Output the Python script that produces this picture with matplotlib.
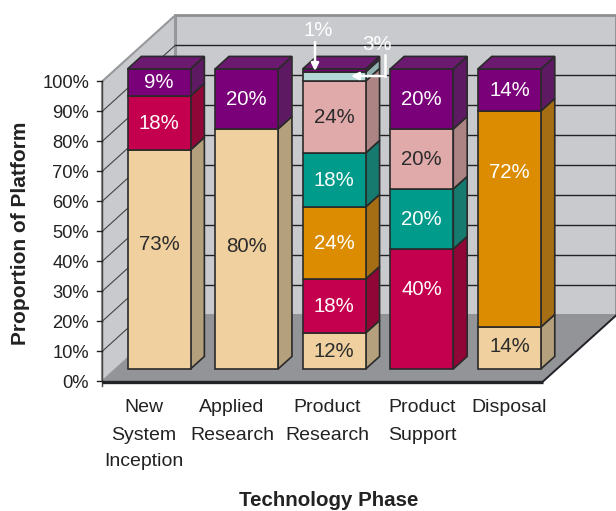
import matplotlib
matplotlib.use('Agg')
import matplotlib.pyplot as plt
from matplotlib.patches import Polygon

plt.rcParams['font.family'] = ['Liberation Sans', 'DejaVu Sans']

phases = ['New\nSystem\nInception', 'Applied\nResearch', 'Product\nResearch', 'Product\nSupport', 'Disposal']
tick_labels = ['0%', '10%', '20%', '30%', '40%', '50%', '60%', '70%', '80%', '90%', '100%']

# stacked from the floor up
beige = [73, 80, 12, 0, 14]
crimson = [18, 0, 18, 40, 0]
orange = [0, 0, 24, 0, 72]
teal = [0, 0, 18, 20, 0]
pink = [0, 0, 24, 20, 0]
pale = [0, 0, 3, 0, 0]
purple = [9, 20, 1, 20, 14]

# values, front colour, side colour, label colour
series = [
	(beige, '#EFD09E', '#B4A07C', '#2b2b2b'),
	(crimson, '#C4004E', '#8F0637', 'white'),
	(orange, '#DB8C00', '#A56D14', 'white'),
	(teal, '#009B8A', '#177A6E', 'white'),
	(pink, '#E0AAAA', '#AC8484', '#2b2b2b'),
	(pale, '#B4D8D6', '#8FB0AE', None),
	(purple, '#7A007A', '#5D1A63', 'white'),
]
TOP_COLOR = '#6B1A70'
EDGE = '#2a2a2a'

# projection of the 3d box on to the page, in pixels
X0, Y0 = 102, 381.5
PLOT_W = 441
PCT = 3.0
DEPTH_X, DEPTH_Y = 73, -66
BAR_W = 63
BAR_STEP = 87.6
BAR_X0 = 127
BAR_DEPTH = 0.19
BAR_FRONT = 0.19


def pt(x, pct, depth=0):
	return (x + DEPTH_X * depth, Y0 - pct * PCT + DEPTH_Y * depth)


def main():
	fig = plt.figure(figsize=(6.16, 5.11), dpi=100)
	ax = fig.add_axes([0, 0, 1, 1])
	ax.set_xlim(0, 616)
	ax.set_ylim(511, 0)
	ax.axis('off')

	x1 = X0 + PLOT_W
	# WALLS AND FLOOR
	ax.add_patch(Polygon([pt(X0, 0, 1), pt(x1, 0, 1), pt(x1, 100, 1), pt(X0, 100, 1)], fc='#C9CACE', ec='#8E8F92', lw=2))
	ax.add_patch(Polygon([pt(X0, 0), pt(X0, 100), pt(X0, 100, 1), pt(X0, 0, 1)], fc='#C9CACE', ec='#97989B', lw=1.5))
	ax.add_patch(Polygon([pt(X0, 0), pt(x1, 0), pt(x1, 0, 1), pt(X0, 0, 1)], fc='#939497', ec='none'))

	# GRID
	for i in range(1, 11):
		p = i * 10
		a, b, c = pt(X0, p), pt(X0, p, 1), pt(x1, p, 1)
		if p < 100:
			ax.plot([b[0], c[0]], [b[1], c[1]], color='#222222', lw=1.0)
			ax.plot([a[0], b[0]], [a[1], b[1]], color='#444444', lw=0.8)
	ax.plot([X0, X0], [pt(X0, 0)[1] + 5, pt(X0, 100)[1]], color='#444444', lw=1.0)
	for i, lab in enumerate(tick_labels):
		y = pt(X0, i * 10)[1]
		ax.plot([X0 - 5, X0], [y, y], color='#222222', lw=1.0)
		ax.text(89, y + 1.5, lab, ha='right', va='center', fontsize=13.2, color='#222222')

	# front and right edge of the floor
	ax.plot([X0, x1], [Y0 + 0.5, Y0 + 0.5], color='#222228', lw=2.4, solid_capstyle='butt')
	ax.plot([x1, x1 + DEPTH_X], [Y0, Y0 + DEPTH_Y], color='#222228', lw=1.4)

	# BARS
	label_shift = {(0, 0): 15, (1, 0): 3, (3, 1): 20, (4, 2): 47, (4, 0): 2}
	for n in range(len(phases)):
		x = BAR_X0 + n * BAR_STEP
		base = 0
		d0, d1 = BAR_FRONT, BAR_FRONT + BAR_DEPTH
		xa = x - DEPTH_X * d0 + 0.5
		xb = xa + BAR_W
		for k, (vals, front, side, txt) in enumerate(series):
			v = vals[n]
			if v == 0:
				continue
			top = base + v
			ax.add_patch(Polygon([pt(xb, base, d0), pt(xb, top, d0), pt(xb, top, d1), pt(xb, base, d1)], fc=side, ec=EDGE, lw=1.2, zorder=3))
			ax.add_patch(Polygon([pt(xa, base, d0), pt(xb, base, d0), pt(xb, top, d0), pt(xa, top, d0)], fc=front, ec=EDGE, lw=1.2, zorder=4))
			if txt is not None and v > 1:
				cx, cy = pt((xa + xb) / 2, (base + top) / 2, d0)
				cy -= label_shift.get((n, k), 0)
				ax.text(cx, cy + 0.5, '%d%%' % v, ha='center', va='center', fontsize=14.7, color=txt, zorder=6)
			base = top
		ax.add_patch(Polygon([pt(xa, 100, d0), pt(xb, 100, d0), pt(xb, 100, d1), pt(xa, 100, d1)], fc=TOP_COLOR, ec=EDGE, lw=1.2, zorder=5))

	# CALLOUTS FOR THE THIN SEGMENTS
	ax.text(318, 31, '1%', ha='center', va='center', fontsize=14.7, color='white', zorder=7)
	ax.text(377, 44, '3%', ha='center', va='center', fontsize=14.7, color='white', zorder=7)
	ax.annotate('', xy=(315, 71), xytext=(315, 42), zorder=7,
		arrowprops=dict(arrowstyle='-|>', color='white', lw=1.8, mutation_scale=11, shrinkA=0, shrinkB=0))
	ax.plot([384.5, 384.5], [55, 76], color='white', lw=1.8, zorder=7)
	ax.annotate('', xy=(351, 76), xytext=(385.5, 76), zorder=7,
		arrowprops=dict(arrowstyle='-|>', color='white', lw=1.8, mutation_scale=11, shrinkA=0, shrinkB=0))

	# AXIS TEXT
	label_x = [144, 232, 327, 422, 509]
	for cx, name in zip(label_x, phases):
		for j, line in enumerate(name.split('\n')):
			ax.text(cx, 408 + j * 27, line, ha='center', va='center', fontsize=14, color='#222222')
	ax.text(329, 500, 'Technology Phase', ha='center', va='center', fontsize=14.8, fontweight='bold', color='#222222')
	ax.text(21, 233, 'Proportion of Platform', ha='center', va='center', rotation=90, fontsize=15, fontweight='bold', color='#222222')

	fig.savefig('out.png', dpi=100)


if __name__ == "__main__":
	main()
